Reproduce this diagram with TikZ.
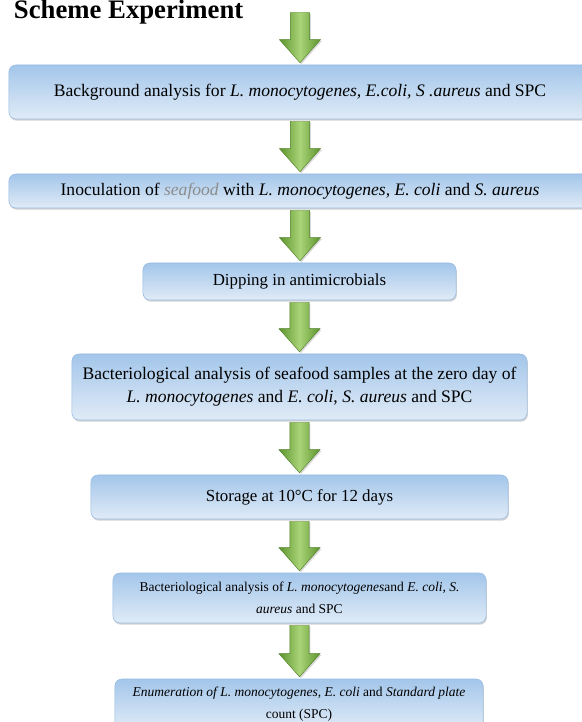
\documentclass[tikz,border=0pt]{standalone}
\usepackage{fontspec}
\setmainfont{Liberation Serif}
\usetikzlibrary{calc,shadows}

\definecolor{boxtop}{RGB}{163,198,234}
\definecolor{boxbottom}{RGB}{224,235,247}
\definecolor{boxline}{RGB}{150,186,226}
\definecolor{arrowdark}{RGB}{92,148,44}
\definecolor{arrowlight}{RGB}{170,212,120}
\definecolor{seafoodgray}{RGB}{140,140,140}

\tikzset{
	stepbox/.style={rounded corners=5pt, draw=boxline, line width=0.4pt,
		top color=boxtop, bottom color=boxbottom,
		drop shadow={shadow xshift=0.6pt, shadow yshift=-1.2pt, opacity=0.35},
		inner sep=0pt, align=center, font={\fontsize{12}{16.4}\selectfont}},
	widebox/.style={stepbox, font={\fontsize{12.5}{16.4}\selectfont}},
	smallbox/.style={stepbox, font={\fontsize{9.6}{15.6}\selectfont}},
	greenarrow/.style={left color=arrowdark, right color=arrowdark, middle color=arrowlight,
		draw=arrowdark!85!black, line width=0.3pt,
		drop shadow={shadow xshift=1pt, shadow yshift=-1pt, opacity=0.3},
		to path={let \p1=(\tikztostart), \p2=(\tikztotarget) in
			(\x1-6.8pt,\y1-1.4pt) -- (\x1+6.8pt,\y1-1.4pt) -- (\x1+6.8pt,\y2+17.8pt)
			-- (\x1+14.6pt,\y2+17.8pt) -- (\x1,\y2+1.4pt) -- (\x1-14.6pt,\y2+17.8pt)
			-- (\x1-6.8pt,\y2+17.8pt) -- cycle}}
}

\begin{document}
\begin{tikzpicture}[x=0.025cm,y=-0.025cm]
	\useasboundingbox (0,0) rectangle (582,722);

	\node[anchor=base west, font={\fontsize{19}{19}\selectfont\bfseries}] (title) at (9,19) {Scheme Experiment};
	\coordinate (start) at (300,10.5);

	% steps of the experiment
	\node[widebox, minimum width=14.55cm, minimum height=1.35cm] (b1) at (300,92)
		{Background analysis for \textit{L. monocytogenes, E.coli, S .aureus} and SPC};
	\node[widebox, minimum width=14.55cm, minimum height=0.85cm] (b2) at (300,191)
		{Inoculation of \textcolor{seafoodgray}{\textit{seafood}} with \textit{L. monocytogenes, E. coli} and \textit{S. aureus}};
	\node[stepbox, minimum width=7.825cm, minimum height=0.925cm] (b3) at (299.5,281.5)
		{Dipping in antimicrobials};
	\node[widebox, minimum width=11.375cm, minimum height=1.65cm] (b4) at (299.5,387)
		{Bacteriological analysis of seafood samples at the zero day of\\
		\textit{L. monocytogenes} and \textit{E. coli}, \textit{S. aureus} and SPC};
	\node[stepbox, minimum width=10.425cm, minimum height=1.1cm] (b5) at (299.5,497)
		{Storage at 10°C for 12 days};
	\node[smallbox, minimum width=9.325cm, minimum height=1.25cm] (b6) at (299.5,598)
		{Bacteriological analysis of \textit{L. monocytogenes}and \textit{E. coli}, \textit{S.}\\
		\textit{aureus} and SPC};
	\node[smallbox, minimum width=9.2cm, minimum height=1.25cm] (b7) at (299,704)
		{\textit{Enumeration of L. monocytogenes, E. coli} and \textit{Standard plate}\\
		count (SPC)};

	% green arrows
	\path[greenarrow] (start) to (b1.north);
	\path[greenarrow] (b1.south) to (b2.north);
	\path[greenarrow] (b2.south) to (b3.north);
	\path[greenarrow] (b3.south) to (b4.north);
	\path[greenarrow] (b4.south) to (b5.north);
	\path[greenarrow] (b5.south) to (b6.north);
	\path[greenarrow] (b6.south) to (b7.north);
\end{tikzpicture}
\end{document}
